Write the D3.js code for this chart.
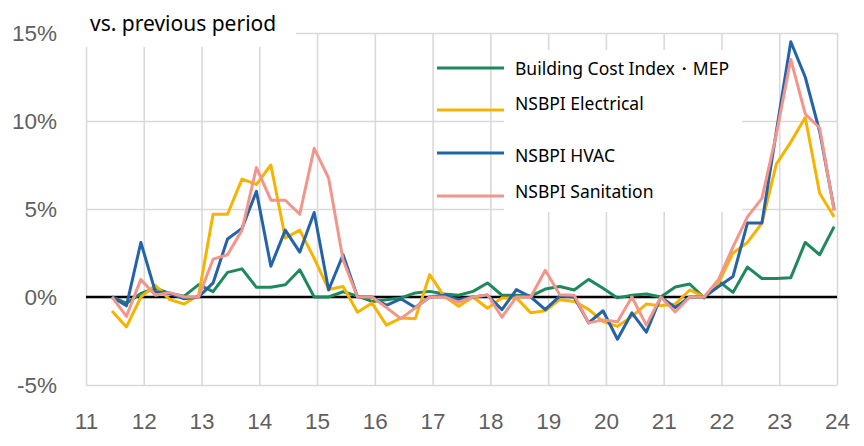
<!DOCTYPE html>
<html>
<head>
<meta charset="utf-8">
<script src="https://cdn.jsdelivr.net/npm/d3@7"></script>
<style>
  body { margin: 0; background: #fff; }
  svg { display: block; font-family: "Noto Sans", "DejaVu Sans", sans-serif; }
</style>
</head>
<body>
<svg></svg>
<script>
// quarterly periods, 2011Q2 .. 2023Q4
var periods = [
  "11Q2","11Q3","11Q4",
  "12Q1","12Q2","12Q3","12Q4",
  "13Q1","13Q2","13Q3","13Q4",
  "14Q1","14Q2","14Q3","14Q4",
  "15Q1","15Q2","15Q3","15Q4",
  "16Q1","16Q2","16Q3","16Q4",
  "17Q1","17Q2","17Q3","17Q4",
  "18Q1","18Q2","18Q3","18Q4",
  "19Q1","19Q2","19Q3","19Q4",
  "20Q1","20Q2","20Q3","20Q4",
  "21Q1","21Q2","21Q3","21Q4",
  "22Q1","22Q2","22Q3","22Q4",
  "23Q1","23Q2","23Q3","23Q4"
];

var buildingMEP = [0, -0.35, 0.2, 0.5, 0.2, 0.05, 0.7, 0.3, 1.4, 1.6,
  0.55, 0.55, 0.7, 1.55, 0, 0, 0.3, 0.05, -0.25, -0.15,
  -0.05, 0.23, 0.32, 0.17, 0.1, 0.32, 0.8, 0.1, 0.1, 0.05,
  0.45, 0.6, 0.4, 1.0, 0.5, -0.05, 0.1, 0.17, 0, 0.57,
  0.74, -0.05, 0.9, 0.26, 1.7, 1.05, 1.05, 1.1, 3.1, 2.4, 4.0];

var electrical = [-0.8, -1.7, 0, 0.66, -0.15, -0.4, 0.1, 4.7, 4.7, 6.7,
  6.4, 7.5, 3.35, 3.8, 2.2, 0.43, 0.6, -0.87, -0.34, -1.6,
  -1.2, -1.23, 1.27, 0.04, -0.53, 0, -0.64, -0.05, -0.05, -0.9,
  -0.78, -0.15, -0.25, -0.7, -1.4, -1.67, -1.1, -0.4, -0.5, -0.4,
  0.4, 0, 0.8, 2.5, 3.1, 4.2, 7.55, 8.8, 10.2, 5.9, 4.55];

var hvac = [0, -0.5, 3.1, 0.3, 0.2, -0.1, 0, 0.8, 3.3, 3.9,
  6.0, 1.75, 3.8, 2.55, 4.8, 0.4, 2.4, 0, 0, -0.47,
  -0.1, -0.6, 0, 0.1, -0.15, 0, 0.1, -0.72, 0.42, 0,
  -0.72, 0.05, 0, -1.47, -0.78, -2.4, -0.9, -2.0, 0, -0.6,
  0, 0, 0.6, 1.17, 4.2, 4.2, 9.4, 14.5, 12.5, 9.4, 5.0];

var sanitation = [0, -1.1, 1.0, 0.1, 0.25, 0, 0, 2.15, 2.4, 3.8,
  7.35, 5.5, 5.5, 4.7, 8.45, 6.75, 2.1, 0, 0, -0.6,
  -1.23, -0.62, 0, 0, -0.3, 0, 0.13, -1.15, 0, 0,
  1.52, 0.13, 0.1, -1.47, -1.3, -1.4, 0, -1.6, 0, -0.85,
  0, 0, 1.0, 2.85, 4.55, 5.6, 9.25, 13.5, 10.4, 9.6, 4.9];

var seriesNames = ["Building Cost Index\u30FBMEP", "NSBPI Electrical", "NSBPI HVAC", "NSBPI Sanitation"];
var seriesColors = ["#1e8a5c", "#f5b400", "#2463a8", "#f2968c"];
var seriesValues = [buildingMEP, electrical, hvac, sanitation];

var yearTicks = [11, 12, 13, 14, 15, 16, 17, 18, 19, 20, 21, 22, 23, 24];
var pctTicks = [-5, 0, 5, 10, 15];

var width = 864;
var height = 446;
var plotLeft = 86, plotRight = 837, plotTop = 33, plotBottom = 385;

var svg = d3.select("svg")
    .attr("width", width)
    .attr("height", height);

var xScale = d3.scaleLinear().domain([11, 24]).range([plotLeft, plotRight]);
var yScale = d3.scaleLinear().domain([-5, 15]).range([plotBottom, plotTop]);

// period label -> position on the year axis
function periodPos(p){
    var yr = +p.slice(0, 2);
    var q = +p.slice(3);
    return yr + (q - 1) * 0.25 + 0.2;
}

var xAxis = d3.axisBottom(xScale)
    .tickValues(yearTicks)
    .tickFormat(d => d)
    .tickSize(-(plotBottom - plotTop))
    .tickSizeOuter(0)
    .tickPadding(28);

var yAxis = d3.axisLeft(yScale)
    .tickValues(pctTicks)
    .tickFormat(d => d + "%")
    .tickSize(-(plotRight - plotLeft))
    .tickSizeOuter(0)
    .tickPadding(29);

var gx = svg.append("g")
    .attr("transform", `translate(0, ${plotBottom})`)
    .call(xAxis);

var gy = svg.append("g")
    .attr("transform", `translate(${plotLeft}, 0)`)
    .call(yAxis);

[gx, gy].forEach(function(g){
    g.select(".domain").remove();
    g.selectAll("line").attr("stroke", "#d9d9d9").attr("stroke-width", 1.6);
    g.selectAll("text")
        .attr("fill", "#5f5f5f")
        .style("font-size", "22.5px");
});

// white boxes behind title and legend
svg.append("rect")
    .attr("x", 60).attr("y", 0)
    .attr("width", 236).attr("height", 47)
    .attr("fill", "#fff");

svg.append("rect")
    .attr("x", 504).attr("y", 50)
    .attr("width", 238).attr("height", 162)
    .attr("fill", "#fff");

// zero line
svg.append("line")
    .attr("x1", plotLeft).attr("x2", plotRight)
    .attr("y1", yScale(0)).attr("y2", yScale(0))
    .attr("stroke", "#000")
    .attr("stroke-width", 2.5);

var line = d3.line()
    .x((d, i) => xScale(periodPos(periods[i])))
    .y(d => yScale(d));

svg.append("g")
    .selectAll("path")
    .data(seriesValues)
    .enter()
    .append("path")
     .attr("d", d => line(d))
     .attr("fill", "none")
     .attr("stroke", (d, i) => seriesColors[i])
     .attr("stroke-width", 3)
     .attr("stroke-linejoin", "round");

svg.append("text")
    .attr("x", 90)
    .attr("y", 31)
    .style("font-size", "21px")
    .attr("fill", "#000")
    .text("vs. previous period");

// legend
var legendLineY = [68, 110, 153, 196];
var legendTextY = [75, 110, 162, 198];

var legend = svg.append("g")
    .selectAll("g")
    .data(seriesNames)
    .enter()
    .append("g");

legend.append("line")
    .attr("x1", 437).attr("x2", 504)
    .attr("y1", (d, i) => legendLineY[i])
    .attr("y2", (d, i) => legendLineY[i])
    .attr("stroke", (d, i) => seriesColors[i])
    .attr("stroke-width", 3);

legend.append("text")
    .attr("x", 515)
    .attr("y", (d, i) => legendTextY[i])
    .style("font-size", "17.5px")
    .attr("fill", "#000")
    .text(d => d);
</script>
</body>
</html>
